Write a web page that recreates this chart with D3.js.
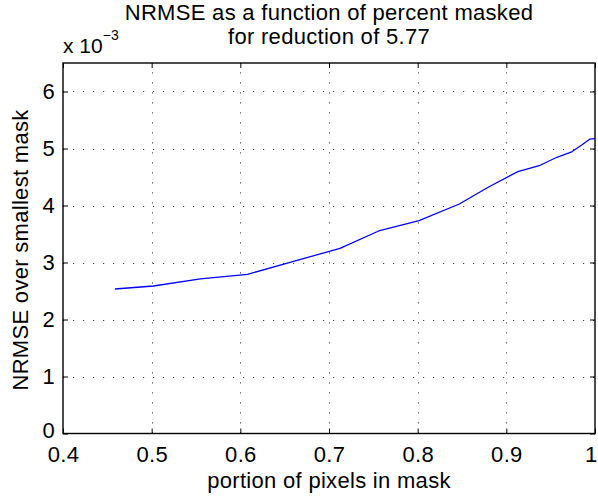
<!DOCTYPE html>
<html>
<head>
<meta charset="utf-8">
<script src="https://cdn.jsdelivr.net/npm/d3@7"></script>
<style>
  html, body { margin: 0; padding: 0; background: #fff; }
  svg { display: block; font-family: "Liberation Sans", Arial, Helvetica, sans-serif; }
</style>
</head>
<body>
<script>
// portion of pixels in mask
const portion = [0.4586, 0.502, 0.555, 0.608, 0.66, 0.7124, 0.756, 0.8015, 0.847, 0.88,
	0.913, 0.937, 0.957, 0.973, 0.985, 0.994, 1.0];
// NRMSE over smallest mask
const nrmse = [2.535e-3, 2.588e-3, 2.711e-3, 2.793e-3, 3.019e-3, 3.249e-3, 3.553e-3, 3.733e-3,
	4.026e-3, 4.325e-3, 4.593e-3, 4.698e-3, 4.846e-3, 4.935e-3, 5.061e-3, 5.163e-3, 5.175e-3];
const xTicks = [0.4, 0.5, 0.6, 0.7, 0.8, 0.9, 1];
const yTicks = [0, 1e-3, 2e-3, 3e-3, 4e-3, 5e-3, 6e-3];
const titleLines = ["NRMSE as a function of percent masked", "for reduction of 5.77"];

const width = 598,
	height = 497,
	margin = ({top: 63, right: 3, bottom: 63.5, left: 63}),
	fontSize = 22,
	spacing = 0.3;

const data = portion.map((p, i) => ({ p, v: nrmse[i] }));

const svg = d3.select("body").append("svg")
	.attr("width", width)
	.attr("height", height);

const x = d3.scaleLinear()
	.domain([0.4, 1])
	.range([margin.left, width - margin.right]);

const y = d3.scaleLinear()
	.domain([0, 6.5e-3])
	.range([height - margin.bottom, margin.top]);

// dotted grid
const grid = svg.append("g")
	.attr("stroke", "#444")
	.attr("stroke-width", 1)
	.attr("stroke-dasharray", "1.2,8.8");

grid.selectAll(".gx")
	.data(xTicks.slice(1, -1))
	.join("line")
	.attr("x1", d => Math.round(x(d)) + 0.5)
	.attr("x2", d => Math.round(x(d)) + 0.5)
	.attr("y1", y.range()[0])
	.attr("y2", y.range()[1]);

grid.selectAll(".gy")
	.data(yTicks.slice(1))
	.join("line")
	.attr("y1", d => Math.round(y(d)) + 0.5)
	.attr("y2", d => Math.round(y(d)) + 0.5)
	.attr("x1", x.range()[0])
	.attr("x2", x.range()[1]);

// series
const line = d3.line()
	.x(d => x(d.p))
	.y(d => y(d.v));

svg.append("path")
	.datum(data)
	.attr("fill", "none")
	.attr("stroke", "#0000ff")
	.attr("stroke-width", 1.3)
	.attr("stroke-linejoin", "round")
	.attr("d", line);

// axes, ticks pointing inward like matlab
const styleAxis = g => {
	g.select(".domain").remove();
	g.selectAll(".tick line").attr("stroke", "#000");
	g.selectAll(".tick text")
		.attr("fill", "#000")
		.attr("font-size", fontSize)
		.attr("letter-spacing", spacing)
		.attr("font-family", "Liberation Sans, Arial, sans-serif");
};

svg.append("g")
	.attr("transform", `translate(0,${y.range()[0]})`)
	.call(d3.axisBottom(x).tickValues(xTicks).tickFormat(d3.format(".1~f"))
		.tickSize(-5).tickPadding(13))
	.call(styleAxis)
	// keep the "1" inside the window
	.call(g => g.select(".tick:last-of-type text")
		.attr("text-anchor", "end")
		.attr("dx", 2));

svg.append("g")
	.attr("transform", `translate(0,${y.range()[1]})`)
	.call(d3.axisTop(x).tickValues(xTicks).tickFormat("").tickSize(-5))
	.call(styleAxis);

svg.append("g")
	.attr("transform", `translate(${x.range()[0]},0)`)
	.call(d3.axisLeft(y).tickValues(yTicks).tickFormat(d => Math.round(d * 1e3))
		.tickSize(-5).tickPadding(8))
	.call(styleAxis)
	.call(g => g.select(".tick:first-of-type text").attr("dy", "0.2em"));

svg.append("g")
	.attr("transform", `translate(${x.range()[1]},0)`)
	.call(d3.axisRight(y).tickValues(yTicks).tickFormat("").tickSize(-5))
	.call(styleAxis);

// box
svg.append("rect")
	.attr("x", x.range()[0])
	.attr("y", y.range()[1])
	.attr("width", x.range()[1] - x.range()[0])
	.attr("height", y.range()[0] - y.range()[1])
	.attr("fill", "none")
	.attr("stroke", "#000")
	.attr("stroke-width", 1.4);

// exponent label
const expo = svg.append("text")
	.attr("x", margin.left)
	.attr("y", 53)
	.attr("font-size", 21)
	.attr("fill", "#000");
expo.append("tspan").text("x 10");
expo.append("tspan")
	.attr("font-size", 14)
	.attr("dy", -13)
	.text("\u22123");

// title
const cx = (x.range()[0] + x.range()[1]) / 2;
svg.append("g")
	.selectAll("text")
	.data(titleLines)
	.join("text")
	.attr("x", cx)
	.attr("y", (d, i) => 19.5 + i * 24.5)
	.attr("text-anchor", "middle")
	.attr("font-size", fontSize)
	.attr("letter-spacing", spacing)
	.attr("fill", "#000")
	.text(d => d);

// axis labels
svg.append("text")
	.attr("x", cx)
	.attr("y", 488)
	.attr("text-anchor", "middle")
	.attr("font-size", fontSize)
	.attr("letter-spacing", spacing)
	.attr("fill", "#000")
	.text("portion of pixels in mask");

svg.append("text")
	.attr("transform", `translate(28,250) rotate(-90)`)
	.attr("text-anchor", "middle")
	.attr("font-size", fontSize)
	.attr("letter-spacing", spacing)
	.attr("fill", "#000")
	.text("NRMSE over smallest mask");
</script>
</body>
</html>
